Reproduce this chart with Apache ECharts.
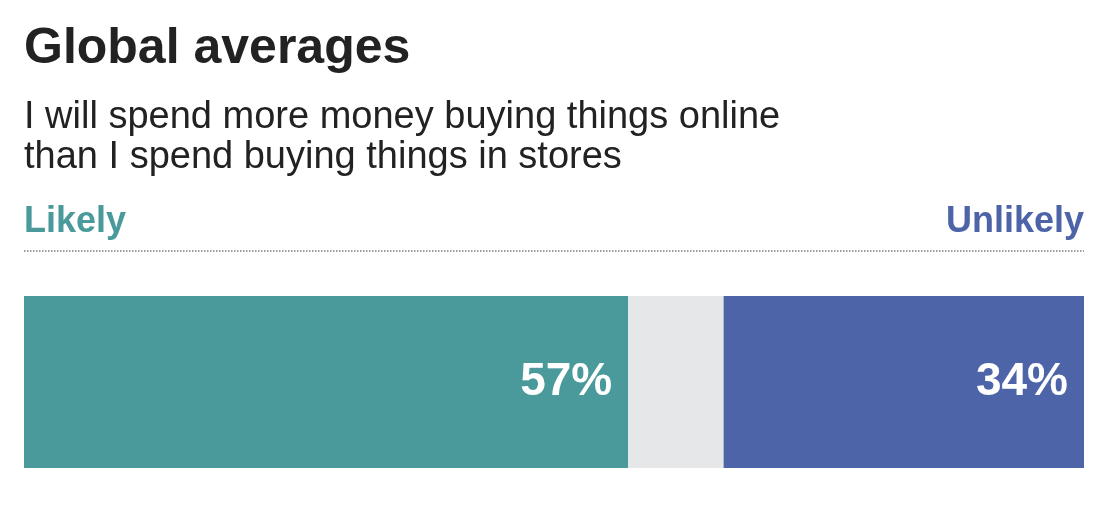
<!DOCTYPE html>
<html>
<head>
<meta charset="utf-8">
<script src="https://cdn.jsdelivr.net/npm/echarts@6/dist/echarts.min.js"></script>
<style>
  html, body { margin: 0; padding: 0; background: #fff; }
  #main { width: 1112px; height: 506px; }
</style>
</head>
<body>
<div id="main"></div>
<script>
var categories = ['Global'];
var likelyValues = [57];
var neitherValues = [9];
var unlikelyValues = [34];

var FONT = '"Liberation Sans", Arial, sans-serif';

// 基于准备好的dom，初始化echarts实例
var myChart = echarts.init(document.getElementById('main'));

var option = {
    animation: false,
    title: [
        {
            text: 'Global averages',
            left: 24, top: 24, padding: 0,
            textStyle: { fontFamily: FONT, fontSize: 50, fontWeight: 'bold', color: '#222222', lineHeight: 50 }
        },
        {
            text: 'I will spend more money buying things online\nthan I spend buying things in stores',
            left: 24, top: 98, padding: 0,
            textStyle: { fontFamily: FONT, fontSize: 38, fontWeight: 'normal', color: '#222222', lineHeight: 40 }
        },
        {
            text: 'Likely',
            left: 24, top: 204, padding: 0,
            textStyle: { fontFamily: FONT, fontSize: 36, fontWeight: 'bold', color: '#4a9a9c', lineHeight: 36 }
        },
        {
            text: 'Unlikely',
            right: 28, top: 204, padding: 0,
            textStyle: { fontFamily: FONT, fontSize: 36, fontWeight: 'bold', color: '#4d64a8', lineHeight: 36 }
        }
    ],
    graphic: [
        {
            type: 'line',
            shape: { x1: 24, y1: 251, x2: 1084, y2: 251 },
            style: { stroke: '#9d9d9d', lineWidth: 2, lineDash: [1.5, 1.5] }
        }
    ],
    grid: { left: 24, right: 28, top: 296, height: 172 },
    xAxis: { type: 'value', min: 0, max: 100, show: false },
    yAxis: { type: 'category', data: categories, show: false },
    series: [
        {
            name: 'Likely', type: 'bar', stack: 'total', barWidth: '100%',
            data: likelyValues,
            itemStyle: { color: '#4a9a9c' },
            label: {
                show: true, position: 'insideRight', distance: 16,
                formatter: '{c}%', color: '#ffffff',
                fontFamily: FONT, fontSize: 46, fontWeight: 'bold'
            }
        },
        {
            name: 'Neither', type: 'bar', stack: 'total', barWidth: '100%',
            data: neitherValues,
            itemStyle: { color: '#e6e7e9' }
        },
        {
            name: 'Unlikely', type: 'bar', stack: 'total', barWidth: '100%',
            data: unlikelyValues,
            itemStyle: { color: '#4d64a8' },
            label: {
                show: true, position: 'insideRight', distance: 16,
                formatter: '{c}%', color: '#ffffff',
                fontFamily: FONT, fontSize: 46, fontWeight: 'bold'
            }
        }
    ]
};

// 使用刚指定的配置项和数据显示图表。
myChart.setOption(option);
</script>
</body>
</html>
